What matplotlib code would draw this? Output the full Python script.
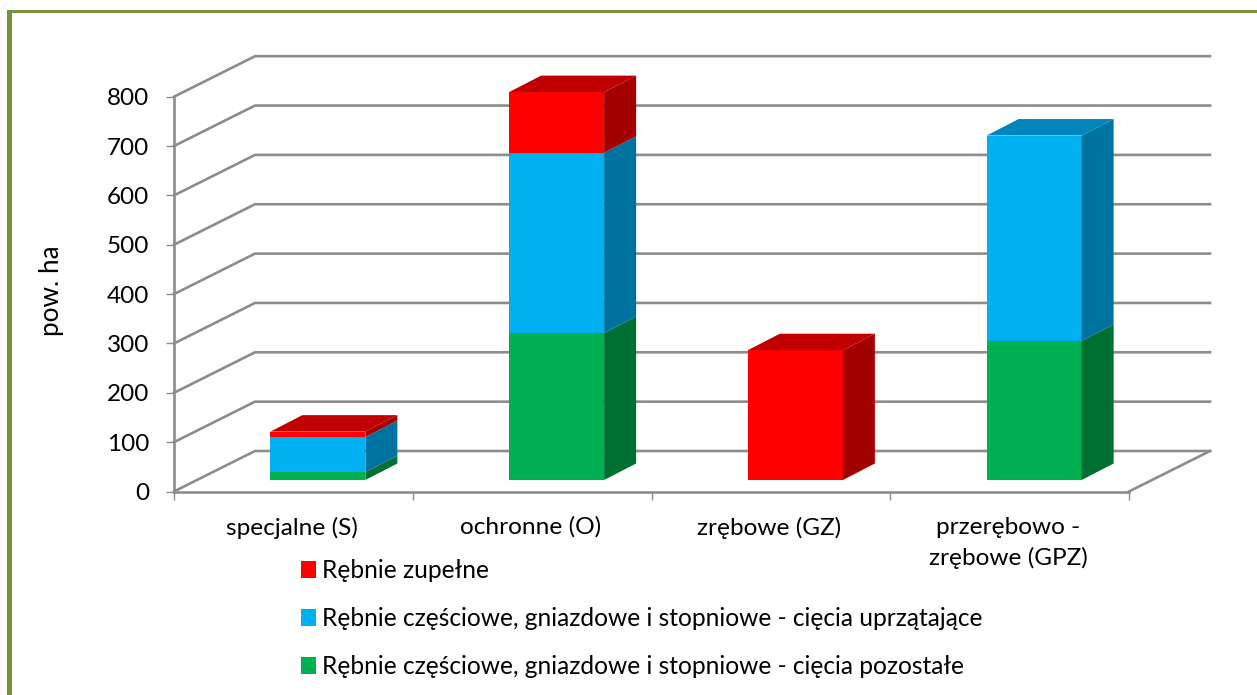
import numpy as np
import matplotlib
matplotlib.use("Agg")
import matplotlib.pyplot as plt
from matplotlib.patches import Polygon, Rectangle

plt.rcParams['font.family'] = ['Lato', 'DejaVu Sans']

categories = ["specjalne (S)", "ochronne (O)", "zrębowe (GZ)", "przerębowo -\nzrębowe (GPZ)"]
green_vals = [16, 298, 0, 282]
blue_vals = [71, 365, 0, 416]
red_vals = [11, 123, 263, 0]
yticks = [0, 100, 200, 300, 400, 500, 600, 700, 800]

names = ["Rębnie zupełne",
         "Rębnie częściowe, gniazdowe i stopniowe - cięcia uprzątające",
         "Rębnie częściowe, gniazdowe i stopniowe - cięcia pozostałe"]

W, H = 1257, 695
fig = plt.figure(figsize=(W / 100, H / 100), dpi=100)
ax = fig.add_axes([174 / W, (H - 491.5) / H, 955 / W, 394.8 / H])
ax.set_xlim(0, 4)
ax.set_ylim(0, 800)

# pixels -> data units
px = 4 / 955
py = 800 / 394.8
wall_dx, wall_dy = 81 * px, 40.5 * py
bar_dx, bar_dy = 32 * px, 16.5 * py
shift_x, shift_y = 24.5 * px, 11.5 * py
bar_w = 95 * px

gray = "#8c8c8c"

# walls
for t in yticks:
    ax.plot([0, wall_dx, 4 + wall_dx], [t, t + wall_dy, t + wall_dy],
            color=gray, lw=1.9, clip_on=False, zorder=1, solid_joinstyle='miter')
ax.plot([4, 4 + wall_dx], [0, wall_dy], color=gray, lw=1.9, clip_on=False, zorder=1)


def draw_box(x, bottom, height, front, side, top, label, draw_top):
    ax.bar(x + shift_x, height, bar_w, bottom=bottom + shift_y, color=front,
           label=label, zorder=3, clip_on=False)
    xr = x + shift_x + bar_w / 2
    xl = x + shift_x - bar_w / 2
    y0 = bottom + shift_y
    y1 = y0 + height
    ax.add_patch(Polygon([(xr, y0), (xr + bar_dx, y0 + bar_dy), (xr + bar_dx, y1 + bar_dy), (xr, y1)],
                         closed=True, fc=side, ec='none', zorder=3, clip_on=False))
    if draw_top:
        ax.add_patch(Polygon([(xl, y1), (xl + bar_dx, y1 + bar_dy), (xr + bar_dx, y1 + bar_dy), (xr, y1)],
                             closed=True, fc=top, ec='none', zorder=3, clip_on=False))


for i in range(len(categories)):
    x = i + 0.5
    g, b, r = green_vals[i], blue_vals[i], red_vals[i]
    if g > 0:
        draw_box(x, 0, g, "#00b050", "#006f32", "#008a3e", names[2] if i == 0 else None, False)
    if b > 0:
        draw_box(x, g, b, "#00b0f0", "#00729f", "#0086bb", names[1] if i == 0 else None, r == 0)
    if r > 0:
        draw_box(x, g + b, r, "#ff0000", "#a30000", "#c00000", names[0] if i == 0 else None, True)

for s in ['top', 'right']:
    ax.spines[s].set_visible(False)
for s in ['left', 'bottom']:
    ax.spines[s].set_color(gray)
    ax.spines[s].set_linewidth(1.9)

ax.set_yticks(yticks)
ax.tick_params(axis='y', length=6, width=1, color=gray, labelsize=17.5, pad=12)
ax.set_xticks([i + 0.5 - 1.5 * px for i in range(4)])
ax.set_xticklabels(categories, fontsize=17.6, linespacing=1.5)
ax.set_xticks([0, 1, 2, 3, 4], minor=True)
ax.tick_params(axis='x', which='major', length=0, pad=18)
ax.tick_params(axis='x', which='minor', length=6, width=1, color=gray)

fig.text(52 / W, 1 - 291 / H, "pow. ha", rotation=90, ha='center', va='center', fontsize=18.8)

handles, labels = ax.get_legend_handles_labels()
order = [labels.index(n) for n in names]
ax.legend([handles[k] for k in order], [labels[k] for k in order],
          loc='upper left', bbox_to_anchor=(291 / W, 1 - 549 / H), bbox_transform=fig.transFigure,
          frameon=False, fontsize=17.65, handlelength=0.62, handleheight=0.7, handletextpad=0.24,
          labelspacing=1.02, borderpad=0.4, borderaxespad=0)

# ramka
fig.add_artist(Rectangle((6.5 / W, 0), 5.5 / W, (H - 10) / H, transform=fig.transFigure, fc="#76923c", ec='none'))
fig.add_artist(Rectangle((6.5 / W, (H - 13) / H), (W - 6.5) / W, 3 / H, transform=fig.transFigure, fc="#76923c", ec='none'))

fig.savefig("out.png", dpi=100)
